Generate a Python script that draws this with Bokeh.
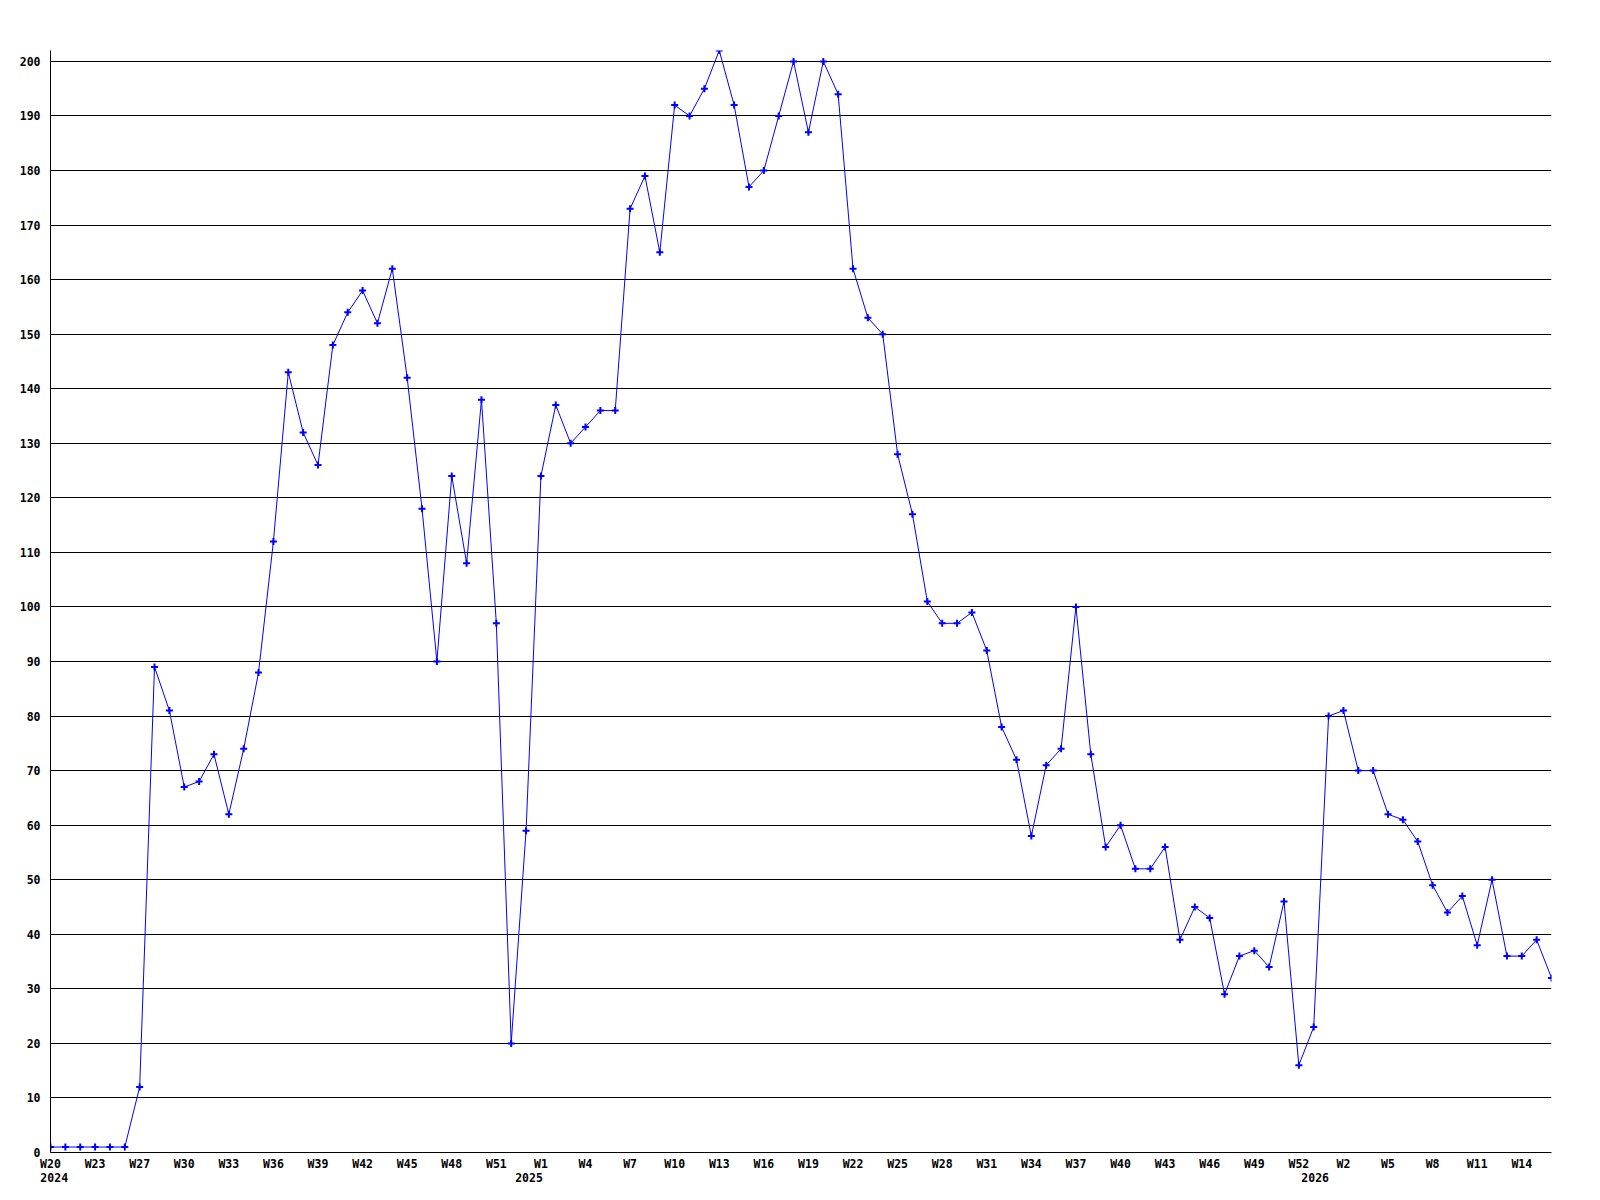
from bokeh.plotting import figure
from bokeh.models import Range1d, FixedTicker, LinearAxis
from bokeh.embed import file_html
from bokeh.resources import INLINE

values = [1, 1, 1, 1, 1, 1, 12, 89, 81, 67, 68, 73, 62, 74, 88, 112, 143, 132, 126, 148,
          154, 158, 152, 162, 142, 118, 90, 124, 108, 138, 97, 20, 59, 124, 137, 130, 133, 136, 136, 173,
          179, 165, 192, 190, 195, 202, 192, 177, 180, 190, 200, 187, 200, 194, 162, 153, 150, 128, 117, 101,
          97, 97, 99, 92, 78, 72, 58, 71, 74, 100, 73, 56, 60, 52, 52, 56, 39, 45, 43, 29,
          36, 37, 34, 46, 16, 23, 80, 81, 70, 70, 62, 61, 57, 49, 44, 47, 38, 50, 36, 36,
          39, 32]
x_idx = list(range(len(values)))

week_labels = ["W20", "W23", "W27", "W30", "W33", "W36", "W39", "W42", "W45", "W48", "W51",
               "W1", "W4", "W7", "W10", "W13", "W16", "W19", "W22", "W25", "W28", "W31", "W34",
               "W37", "W40", "W43", "W46", "W49", "W52", "W2", "W5", "W8", "W11", "W14"]
week_ticks = [i * 3 for i in range(len(week_labels))]

year_labels = ["2024", "2025", "2026"]
year_pos = [0.25, 32.2, 85.1]

y_ticks = list(range(0, 201, 10))

W, H = 1575, 1192
FL, FT, FR, FB = 50, 50, 1551, 1152
p = figure(width=W, height=H, output_backend="svg", toolbar_location=None,
           x_range=Range1d(0, 101), y_range=Range1d(0, 202),
           min_border_left=FL, min_border_top=FT, min_border_right=W - FR,
           min_border_bottom=H - FB)
p.outline_line_color = None
p.background_fill_color = "white"
p.border_fill_color = "white"

p.xgrid.grid_line_color = None
p.ygrid.grid_line_color = "black"
p.ygrid.grid_line_width = 1
p.ygrid.ticker = FixedTicker(ticks=y_ticks)

font = "DejaVu Sans Mono"
fsize = "11.5px"

p.yaxis.ticker = FixedTicker(ticks=y_ticks)
p.yaxis.major_tick_out = 0
p.yaxis.major_tick_in = 0
p.yaxis.minor_tick_out = 0
p.yaxis.minor_tick_in = 0
p.yaxis.major_label_standoff = 10
p.yaxis.axis_line_color = "black"
p.yaxis.major_label_text_font = font
p.yaxis.major_label_text_font_style = "bold"
p.yaxis.major_label_text_font_size = fsize
p.yaxis.major_label_text_color = "black"

p.xaxis.ticker = FixedTicker(ticks=week_ticks)
p.xaxis.major_label_overrides = {t: l for t, l in zip(week_ticks, week_labels)}
p.xaxis.major_tick_out = 0
p.xaxis.major_tick_in = 0
p.xaxis.minor_tick_out = 0
p.xaxis.minor_tick_in = 0
p.xaxis.major_label_standoff = 4
p.xaxis.axis_line_color = "black"
p.xaxis.major_label_text_font = font
p.xaxis.major_label_text_font_style = "bold"
p.xaxis.major_label_text_font_size = fsize
p.xaxis.major_label_text_color = "black"

year_axis = LinearAxis(ticker=FixedTicker(ticks=year_pos),
                       major_label_overrides={t: l for t, l in zip(year_pos, year_labels)},
                       axis_line_color=None, major_tick_line_color=None, minor_tick_line_color=None,
                       major_tick_out=0, major_tick_in=0, minor_tick_out=0, minor_tick_in=0,
                       major_label_standoff=-1,
                       major_label_text_font=font, major_label_text_font_style="bold",
                       major_label_text_font_size=fsize, major_label_text_color="black")
p.add_layout(year_axis, "below")

p.line(x_idx, values, line_color="#0000ff", line_width=1)
p.scatter(x_idx, values, marker="cross", size=7, line_color="#0000ff", line_width=2)

open("out.html", "w").write(file_html(p, INLINE))
